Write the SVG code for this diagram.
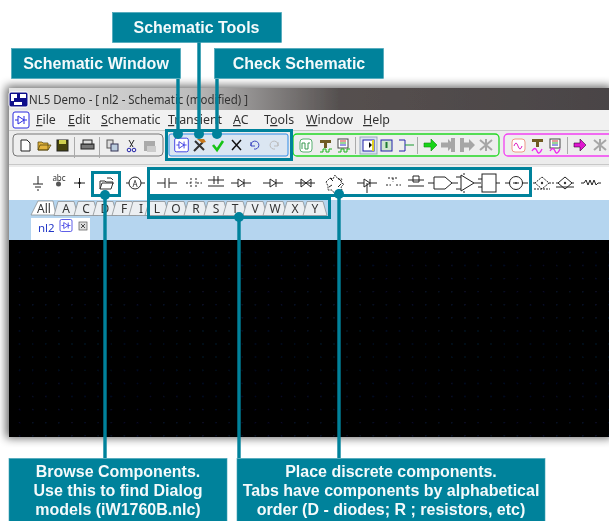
<svg xmlns="http://www.w3.org/2000/svg" width="609" height="521" viewBox="0 0 609 521">
<style>
.callout{fill:#00829b;stroke:#3fa0b4;stroke-width:.6}
.ct{font:bold 16px "Liberation Sans",Arial,sans-serif;fill:#f4fafb;text-anchor:middle}
.cb{font:bold 16px "Liberation Sans",Arial,sans-serif;fill:#f4fafb;text-anchor:middle}
.hl{fill:none;stroke:#00829b;stroke-width:3}
.ln{fill:none;stroke:#00829b;stroke-width:3.4}
.dot{fill:#00829b}
.ui{font:12.4px "Noto Sans","Open Sans",sans-serif;fill:#333}
.tab{fill:#eceff2;stroke:#8d9296;stroke-width:.8}
.tt{font:12px "Noto Sans",sans-serif;fill:#333;text-anchor:middle}
.sym{fill:none;stroke:#222;stroke-width:1}
.gr{fill:#a6a6a6}
</style>
<defs>
<filter id="sh" x="-10%" y="-10%" width="120%" height="120%"><feGaussianBlur stdDeviation="5"/></filter>
<filter id="sf" x="-2%" y="-2%" width="104%" height="104%"><feGaussianBlur stdDeviation="0.35"/></filter>
<linearGradient id="tb" x1="0" x2="1" y1="0" y2="0"><stop offset="0" stop-color="#e4e4e4"/><stop offset=".3" stop-color="#bdbdbd"/><stop offset=".55" stop-color="#55504f"/><stop offset="1" stop-color="#4a4446"/></linearGradient>
<pattern id="grid" width="13.1" height="13.1" patternUnits="userSpaceOnUse" x="0" y="-2"><rect x="6" y="5" width="1" height="1" fill="#14225c"/></pattern>
<g id="nlicon"><rect x="-8" y="-8" width="16" height="16" rx="2" fill="#fff" stroke="#2a2ae0"/><path d="M-6 0H-3M3 0H6M-3-4V4L3 0ZM3-4V4" fill="none" stroke="#2a2ae0"/></g>
<g id="diode"><path class="sym" d="M-10 0H-3M3 0H10M-3-4V4L3 0ZM3-4V4"/></g>
<path id="tabp" d="M-12 7L-8-7H8L12 7Z"/>
<g id="arrowgrey"><path class="gr" d="M-7-2.500H0V-6L6 0L0 6V2.500H-7Z"/></g>
</defs>

<g id="window">
<rect x="6" y="86" width="606" height="352" fill="#000" opacity=".6" filter="url(#sh)"/>
<g filter="url(#sf)">
<rect x="9" y="88" width="600" height="349" fill="#f0f0f0"/>
<rect x="9" y="88" width="600" height="22" fill="url(#tb)"/>
<rect x="9" y="92" width="19" height="15" rx="2" fill="#10108a" stroke="#fff"/>
<path d="M11 94h6v4h-3v3h-3zM20 94h6v4h-6zM14 102h8v3h-8z" fill="#fff"/>
<text class="ui" x="29" y="104" textLength="219" lengthAdjust="spacingAndGlyphs" style="font-size:13px">NL5 Demo - [ nl2 - Schematic (modified) ]</text>
<rect x="9" y="110" width="600" height="20" fill="#f1f1f1"/>
<use href="#nlicon" x="21" y="120"/>
<text class="ui" x="36" y="124"><tspan text-decoration="underline">F</tspan>ile</text>
<text class="ui" x="68" y="124"><tspan text-decoration="underline">E</tspan>dit</text>
<text class="ui" x="101" y="124"><tspan text-decoration="underline">S</tspan>chematic</text>
<text class="ui" x="168" y="124"><tspan text-decoration="underline">T</tspan>ransient</text>
<text class="ui" x="233" y="124"><tspan text-decoration="underline">A</tspan>C</text>
<text class="ui" x="264" y="124">T<tspan text-decoration="underline">o</tspan>ols</text>
<text class="ui" x="306" y="124"><tspan text-decoration="underline">W</tspan>indow</text>
<text class="ui" x="363" y="124"><tspan text-decoration="underline">H</tspan>elp</text>
<rect x="9" y="130" width="600" height="37" fill="#ececec"/>
<path d="M9 130.500H609M9 164.500H609" stroke="#c8c8c8"/>
<rect x="13" y="134" width="150" height="22" rx="4" fill="#eeeeee" stroke="#777"/>
<path d="M21 140h6l3 3v8H21z" fill="#fff" stroke="#222"/>
<path d="M38 150v-8h4l1 1h5v7zM38 150l2-5h11l-3 5z" fill="#e2b33c" stroke="#5a4a10" stroke-width=".8"/>
<rect x="57" y="140" width="11" height="11" fill="#44420c" stroke="#222"/>
<rect x="59" y="140" width="7" height="4" fill="#cfcf50"/>
<path d="M74.500 137V158" stroke="#aaa"/>
<rect x="81" y="144" width="13" height="5" fill="#777" stroke="#222"/><rect x="83" y="140" width="9" height="4" fill="#ddd" stroke="#222"/>
<path d="M99.500 137V158" stroke="#aaa"/>
<rect x="107" y="140" width="6" height="8" fill="#ddd" stroke="#555"/><rect x="111" y="144" width="7" height="7" fill="#bcd" stroke="#335"/>
<path d="M129 140l4 7M134 140l-4 7" stroke="#222"/><circle cx="129" cy="150" r="1.800" fill="none" stroke="#22a"/><circle cx="134" cy="150" r="1.800" fill="none" stroke="#22a"/>
<rect x="144" y="141" width="11" height="10" fill="#aaa"/><rect x="147" y="146" width="9" height="6" fill="#ccc"/>

<rect x="169" y="134" width="119" height="22" rx="2" fill="#dbe6f2" stroke="#2f8ce8"/>
<use href="#nlicon" transform="translate(181.500 145) scale(.85)"/>
<path d="M194 151l9-9M195 141l9 9" stroke="#333" stroke-width="2"/><path d="M197 139h7l2 3-4 1z" fill="#c8781c"/>
<path d="M213 145l4 5 6-9" fill="none" stroke="#19c419" stroke-width="2.600"/>
<path d="M232 140l9 10M241 140l-9 10" stroke="#111" stroke-width="1.500"/>
<path d="M251 146a4 4 0 1 1 3 3M251 142v4h4" fill="none" stroke="#3c46c0"/>
<path d="M278 146a4 4 0 1 0-3 3M278 142v4h-4" fill="none" stroke="#bbb"/>

<rect x="293" y="134" width="206" height="22" rx="4" fill="#eeeeee" stroke="#22d822" stroke-width="1.300"/>
<rect x="300" y="139" width="12" height="13" rx="3" fill="#fff" stroke="#58b070"/><path d="M302 149v-6h3v6h3v-6h2" fill="none" stroke="#3a9a50"/>
<path d="M320 140h11v3h-4v5h-3v-5h-4z" fill="#6e5a20"/><path d="M320 152h3v-3h3v3h3v-3h3" fill="none" stroke="#1cb41c"/>
<rect x="338" y="139" width="10" height="9" fill="#fff" stroke="#444"/><path d="M340 141h6" stroke="#c33"/><path d="M340 143h6" stroke="#3a3"/><path d="M340 145h6" stroke="#33c"/><path d="M338 152h3v-3h3v3h3v-3h3" fill="none" stroke="#1cb41c"/>
<path d="M355.500 137V154M417.500 137V154" stroke="#aaa"/>
<rect x="360" y="137" width="17" height="17" fill="#d8e2f0" stroke="#9ab"/>
<rect x="363" y="140" width="11" height="11" fill="#fff" stroke="#22a"/><path d="M365 145h4v-3l3 3-3 3v-3" fill="#111"/><rect x="372" y="140" width="2" height="11" fill="#e0d020"/>
<rect x="381" y="140" width="11" height="11" fill="#cfe6cf" stroke="#22a"/><path d="M386.500 148v-6" stroke="#1a7a30" stroke-width="2"/>
<path d="M399 140h6v11h-6" fill="none" stroke="#22a"/><path d="M405 145h9" stroke="#1a9a30"/>
<path d="M424 143h7v-4l6 6-6 6v-4h-7z" fill="#16d416" stroke="#0a8a0a" stroke-width=".6"/>
<use href="#arrowgrey" x="448" y="145"/><rect x="451" y="138" width="4" height="14" class="gr"/>
<rect x="460" y="138" width="4" height="14" class="gr"/><use href="#arrowgrey" x="469" y="145"/>
<path d="M480 140l12 10M492 140l-12 10M486 139v12" stroke="#a6a6a6" stroke-width="2"/>
<rect x="504" y="134" width="110" height="22" rx="4" fill="#eeeeee" stroke="#f23ff2" stroke-width="1.300"/>
<rect x="512" y="139" width="13" height="13" rx="3" fill="#fff" stroke="#e98"/><path d="M514 146q2-6 4 0t4 0" fill="none" stroke="#e020c0"/>
<path d="M532 139h11v3h-4v5h-3v-5h-4z" fill="#6e5a20"/><path d="M532 151q3-5 5 0t5-2" fill="none" stroke="#ee22ee" stroke-width="1.300"/>
<rect x="550" y="139" width="10" height="9" fill="#fff" stroke="#444"/><path d="M552 141h6" stroke="#c33"/><path d="M552 143h6" stroke="#3a3"/><path d="M552 145h6" stroke="#33c"/><path d="M550 151q3-5 5 0t5-2" fill="none" stroke="#ee22ee" stroke-width="1.300"/>
<path d="M567.500 137V154" stroke="#aaa"/>
<path d="M574 143h6v-4l6 6-6 6v-4h-6z" fill="#e012d0" stroke="#301030" stroke-width=".6"/>
<path d="M594 140l12 10M606 140l-12 10M600 139v12" stroke="#a6a6a6" stroke-width="2"/>

<rect x="9" y="167" width="600" height="33" fill="#fff"/>
<path class="sym" d="M38 176v8M33 184h10M35 187h6M37 190h2"/>
<text x="59" y="181" style="font:8px 'Noto Sans',sans-serif" fill="#333" text-anchor="middle">abc</text><circle cx="58.500" cy="184" r="2.500" fill="#555"/>
<path class="sym" d="M74 183h11M79.500 178v10"/><circle cx="79.500" cy="183" r="1.200" fill="#111"/>
<path d="M100 189v-8h5l1 1h7v2M100 189l2-6h11l-2 6z" fill="#fff" stroke="#333"/><path d="M107 178h4l2 2" fill="none" stroke="#333"/>
<circle cx="135" cy="183" r="6" fill="#fff" stroke="#222"/><text x="135" y="186.500" style="font:8px 'Noto Sans',sans-serif" fill="#222" text-anchor="middle">A</text><path class="sym" d="M126 183h3M141 183h4"/>
<path class="sym" d="M157 183h8M169 183h8M165 178v10M169 178v10"/>
<path class="sym" stroke-dasharray="2 1.500" d="M186 183h5M197 183h5M191 178v10M196 178v10"/>
<path class="sym" d="M208 180h16M208 186h16M214 176v8M218 176v8"/>
<use href="#diode" x="241" y="183"/><use href="#diode" x="273" y="183"/>
<path class="sym" d="M295 183h20M301 179v8l5-4zM311 179v8l-5-4z"/>
<path d="M326 182l4-4 3 1 2-4 3 4 4 0-1 4 3 1-3 3 1 3-5 0-2 4-3-4-4 0 0-4z" fill="none" stroke="#333" stroke-dasharray="2 1"/><path d="M330 178l3 3M338 178l3 3M329 187l3-2M338 187l3-3" stroke="#222"/>
<use href="#diode" x="367" y="183"/><path class="sym" d="M367 183v10"/>
<path class="sym" stroke-dasharray="2 1.500" d="M386 185h5M396 185h5M388 178h10M393 178v4"/>
<path class="sym" d="M408 180h16M408 186h16M413 176h6v6h-6z"/>
<path class="sym" d="M434 177h11l7 6-7 6h-11zM428 183h6M452 183h6"/>
<path class="sym" d="M461 175l13 8-13 8zM474 183h7M456 177h5M456 189h5M464 175v-2M464 191v2"/>
<rect x="482" y="174" width="14" height="18" class="sym"/><path class="sym" d="M478 179h4M478 187h4M496 183h4"/>
<circle cx="516" cy="183" r="6.500" class="sym"/><path class="sym" d="M505 183h5M522 183h6M513 183h6"/><circle cx="516" cy="183" r="1" fill="#333"/>
<path class="sym" d="M542 177l7 6-7 6-7-6zM530 183h5M549 183h5M534 189h16" stroke-dasharray="2 1"/><circle cx="542" cy="183" r="1.200" fill="#333"/>
<path class="sym" d="M565 177l7 6-7 6-7-6zM556 183h2M572 183h2M556 187h18"/><circle cx="565" cy="183" r="1.200" fill="#333"/>
<path class="sym" d="M581 183h3l2-3 2 5 2-5 2 5 2-5 2 5 2-2h3"/>

<rect x="9" y="200" width="600" height="41" fill="#b5d5ef"/>
<g id="tabs">
<path d="M31 215L38 201H53L56 215Z" fill="#fff" stroke="#8d9296" stroke-width=".8"/>
<text class="tt" x="44" y="212.500">All</text>
<use href="#tabp" class="tab" x="66" y="208.500"/><text class="tt" x="66" y="212.500">A</text>
<use href="#tabp" class="tab" x="86" y="208.500"/><text class="tt" x="86" y="212.500">C</text>
<use href="#tabp" class="tab" x="105" y="208.500"/><text class="tt" x="105" y="212.500">D</text>
<use href="#tabp" class="tab" x="124" y="208.500"/><text class="tt" x="124" y="212.500">F</text>
<use href="#tabp" class="tab" x="141" y="208.500"/><text class="tt" x="141" y="212.500">I</text>
<use href="#tabp" class="tab" x="157" y="208.500"/><text class="tt" x="157" y="212.500">L</text>
<use href="#tabp" class="tab" x="176" y="208.500"/><text class="tt" x="176" y="212.500">O</text>
<use href="#tabp" class="tab" x="196" y="208.500"/><text class="tt" x="196" y="212.500">R</text>
<use href="#tabp" class="tab" x="216" y="208.500"/><text class="tt" x="216" y="212.500">S</text>
<use href="#tabp" class="tab" x="235" y="208.500"/><text class="tt" x="235" y="212.500">T</text>
<use href="#tabp" class="tab" x="255" y="208.500"/><text class="tt" x="255" y="212.500">V</text>
<use href="#tabp" class="tab" x="275" y="208.500"/><text class="tt" x="275" y="212.500">W</text>
<use href="#tabp" class="tab" x="295" y="208.500"/><text class="tt" x="295" y="212.500">X</text>
<use href="#tabp" class="tab" x="315" y="208.500"/><text class="tt" x="315" y="212.500">Y</text>
</g>
<rect x="31" y="218" width="59" height="23" fill="#fff"/>
<text x="38" y="232" style="font:11.500px 'Noto Sans',sans-serif" fill="#2438c8">nl2</text>
<use href="#nlicon" transform="translate(66 225.500) scale(.75)"/>
<rect x="79" y="222" width="8" height="8" fill="#ddd" stroke="#555" stroke-width=".7"/><path d="M81 224l4 4M85 224l-4 4" stroke="#222" stroke-width=".8"/>
<rect x="9" y="240" width="600" height="197" fill="#000"/>
<rect x="9" y="240" width="600" height="197" fill="url(#grid)"/>
</g>
</g>

<g id="connectors">
<path class="ln" d="M178 79V133M199 42V133M217 79V133M105 195V458M239 217V458M339 194V458"/>
<circle class="dot" cx="178" cy="134" r="5"/><circle class="dot" cx="199" cy="134" r="5"/><circle class="dot" cx="217" cy="134" r="5"/>
<circle class="dot" cx="105" cy="195" r="5"/><circle class="dot" cx="239" cy="217" r="5"/><circle class="dot" cx="339" cy="194" r="5"/>
</g>
<g id="highlights">
<rect class="hl" x="166.500" y="130.500" width="125" height="29"/>
<rect class="hl" x="92.500" y="172.500" width="27" height="23"/>
<rect class="hl" x="148.500" y="168.500" width="382" height="27"/>
<rect class="hl" x="148.500" y="198.500" width="181" height="19"/>
</g>
<g id="schematic-tools"><rect class="callout" x="112.500" y="12.500" width="169" height="30"/><text class="ct" x="196.500" y="33">Schematic Tools</text></g>
<g id="schematic-window"><rect class="callout" x="11.500" y="48.500" width="169" height="30"/><text class="ct" x="96" y="69">Schematic Window</text></g>
<g id="check-schematic"><rect class="callout" x="214.500" y="48.500" width="169" height="30"/><text class="ct" x="299" y="69">Check Schematic</text></g>
<g id="browse-components"><rect class="callout" x="9" y="458.500" width="218" height="63"/>
<text class="cb" x="118" y="477">Browse Components.</text><text class="cb" x="118" y="496">Use this to find Dialog</text><text class="cb" x="118" y="514.500">models (iW1760B.nlc)</text></g>
<g id="place-discrete"><rect class="callout" x="237" y="458.500" width="308" height="63"/>
<text class="cb" x="391" y="477">Place discrete components.</text><text class="cb" x="391" y="496">Tabs have components by alphabetical</text><text class="cb" x="391" y="514.500">order (D - diodes; R ; resistors, etc)</text></g>
</svg>
